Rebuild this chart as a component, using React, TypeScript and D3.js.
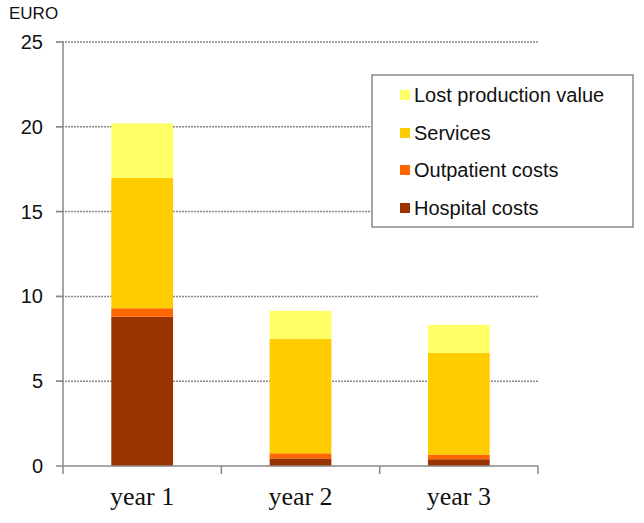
import React from "react";
import * as d3 from "d3";

const categories = ["year 1", "year 2", "year 3"];
const seriesNames = ["Hospital costs", "Outpatient costs", "Services", "Lost production value"];
const hospital = [8.8, 0.45, 0.4];
const outpatient = [0.5, 0.3, 0.27];
const services = [7.7, 6.75, 6.0];
const lostProduction = [3.2, 1.65, 1.65];
const yTicks = [0, 5, 10, 15, 20, 25];
const colors = ["#993300", "#FF6600", "#FFCC00", "#FFFF66"];

const W = 644, H = 523;
const x0 = 63, x1 = 538, yTop = 42, yBot = 466;

export default function App() {
  const y = d3.scaleLinear().domain([0, 25]).range([yBot, yTop]);
  const x = d3.scaleBand<string>().domain(categories).range([x0, x1]).padding(0);
  const barW = x.bandwidth() * 0.39;
  const rows = categories.map((c, i) => ({
    cat: c,
    "Hospital costs": hospital[i],
    "Outpatient costs": outpatient[i],
    "Services": services[i],
    "Lost production value": lostProduction[i],
  }));
  const stack = d3.stack<any>().keys(seriesNames)(rows);
  const legendOrder = [3, 2, 1, 0];
  const legendY = [95, 133, 170, 208];

  return (
    <svg width={W} height={H} style={{ position: "absolute", left: 0, top: 0, background: "#fff" }}>
      <rect x={0} y={0} width={W} height={H} fill="#fff" />
      {yTicks.filter(t => t > 0).map(t => (
        <line key={t} x1={56} x2={x1} y1={y(t)} y2={y(t)} stroke="#8a8a8a" strokeWidth={1.5} strokeDasharray="2,1" />
      ))}
      {yTicks.map(t => (
        <line key={"tk" + t} x1={56} x2={x0} y1={y(t)} y2={y(t)} stroke="#888" strokeWidth={1.5} />
      ))}
      {stack.map((s, si) =>
        s.map((d, i) => (
          <rect key={si + "-" + i}
            x={(x(categories[i]) as number) + x.bandwidth() / 2 - barW / 2}
            y={y(d[1])} width={barW} height={y(d[0]) - y(d[1])} fill={colors[si]} />
        ))
      )}
      <line x1={x0} x2={x0} y1={yTop} y2={yBot + 8} stroke="#888" strokeWidth={1.5} />
      <line x1={x0} x2={x1} y1={yBot} y2={yBot} stroke="#888" strokeWidth={1.5} />
      {categories.map(c => (
        <line key={"xt" + c} x1={(x(c) as number) + x.bandwidth()} x2={(x(c) as number) + x.bandwidth()}
          y1={yBot} y2={yBot + 8} stroke="#888" strokeWidth={1.5} />
      ))}
      {yTicks.map(t => (
        <text key={"yl" + t} x={43} y={y(t)} dy="0.35em" textAnchor="end"
          fontFamily="Liberation Sans, Arial, sans-serif" fontSize={20} fill="#111">{t}</text>
      ))}
      <text x={9} y={13} dy="0.35em" fontFamily="Liberation Sans, Arial, sans-serif" fontSize={17} fill="#111">EURO</text>
      {categories.map(c => (
        <text key={"xl" + c} x={(x(c) as number) + x.bandwidth() / 2} y={496} dy="0.35em" textAnchor="middle"
          fontFamily="Liberation Serif, serif" fontSize={26} fill="#111">{c}</text>
      ))}
      <rect x={372} y={75} width={261} height={152} fill="#fff" stroke="#888" strokeWidth={1.5} />
      {legendOrder.map((si, k) => (
        <g key={"lg" + si}>
          <rect x={400} y={legendY[k] - 5} width={10} height={10} fill={colors[si]} />
          <text x={414} y={legendY[k]} dy="0.35em" fontFamily="Liberation Sans, Arial, sans-serif" fontSize={20} fill="#111">
            {seriesNames[si]}
          </text>
        </g>
      ))}
    </svg>
  );
}
